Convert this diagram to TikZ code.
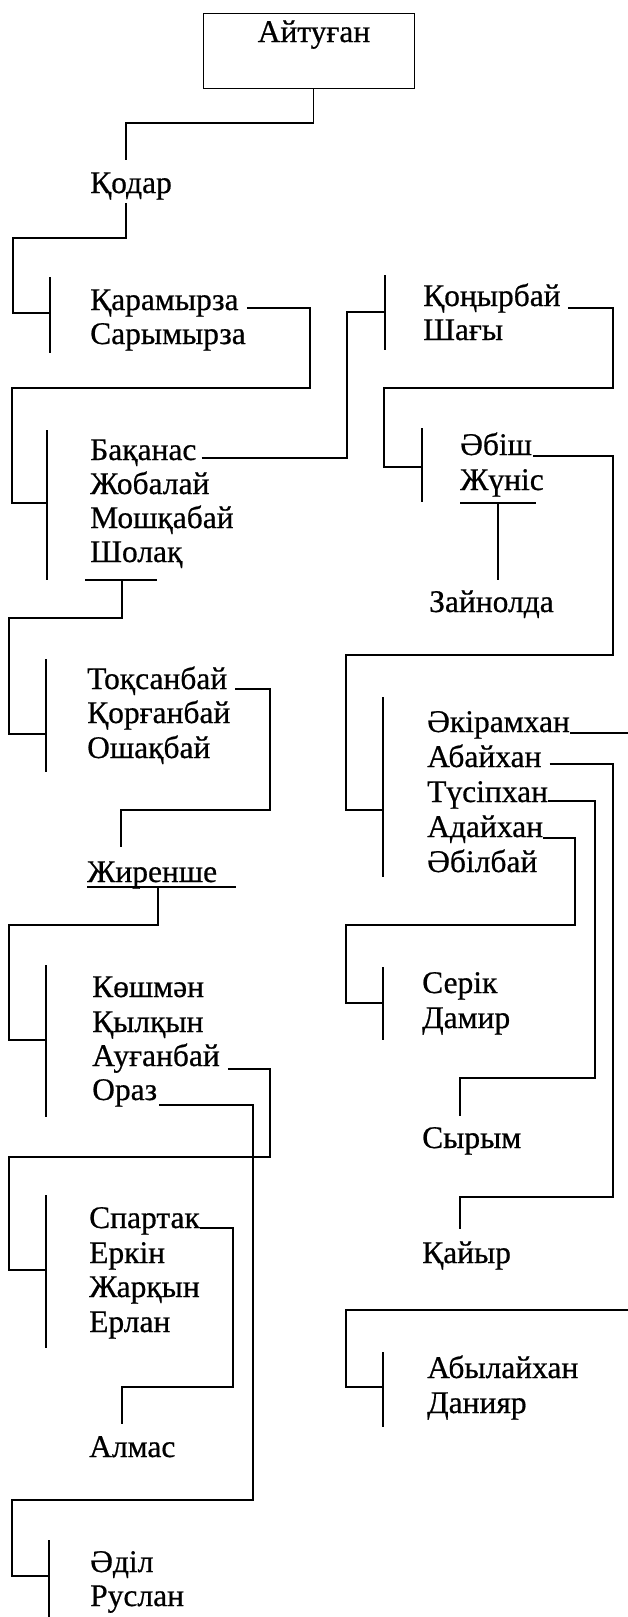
\documentclass[tikz,border=0pt]{standalone}
\usepackage{fontspec}
\setmainfont{Liberation Serif}
\newfontfamily\nmfont{Liberation Serif}[BoldFont=Liberation Serif, BoldFeatures={FakeBold=0.6}]
\usetikzlibrary{calc}
\tikzset{
  nm/.style={anchor=base west, inner sep=0pt, font=\nmfont\bfseries\fontsize{31.5}{36}\selectfont},
  ln/.style={line width=1.2pt},
  bar/.style={line width=1.2pt}
}
\begin{document}
\begin{tikzpicture}[x=1pt,y=-1pt]
\useasboundingbox (0,0) rectangle (628,1617);
\fill[white] (0,0) rectangle (628,1617);

% top box
\node[draw, line width=1.2pt, anchor=north west, inner sep=0pt, minimum width=211pt, minimum height=75pt] (aitbox) at (203,13) {};
\node[nm, anchor=base] (ait) at (314,42) {Айтуған};

% names
\node[nm] (kod) at (90,193) {Қодар};
\node[nm] (kar) at (90,310) {Қарамырза};
\node[nm] (sar) at (90,344) {Сарымырза};
\node[nm] (bak) at (90,460) {Бақанас};
\node[nm] (zhob) at (90,494) {Жобалай};
\node[nm] (mosh) at (90,528) {Мошқабай};
\node[nm] (shol) at (90,562) {Шолақ};
\node[nm] (kon) at (423,306) {Қоңырбай};
\node[nm] (shag) at (423,340) {Шағы};
\node[nm] (abi) at (460,455) {Әбіш};
\node[nm] (zhun) at (460,490) {Жүніс};
\node[nm] (zay) at (429,612) {Зайнолда};
\node[nm] (tok) at (87,689) {Тоқсанбай};
\node[nm] (kor) at (87,723) {Қорғанбай};
\node[nm] (osh) at (87,758) {Ошақбай};
\node[nm] (zhir) at (87,882) {Жиренше};
\node[nm] (akir) at (427,732) {Әкірамхан};
\node[nm] (abay) at (427,767) {Абайхан};
\node[nm] (tus) at (427,802) {Түсіпхан};
\node[nm] (aday) at (427,837) {Адайхан};
\node[nm] (abil) at (427,872) {Әбілбай};
\node[nm] (ser) at (422,993) {Серік};
\node[nm] (dam) at (422,1028) {Дамир};
\node[nm] (syr) at (422,1148) {Сырым};
\node[nm] (kay) at (422,1263) {Қайыр};
\node[nm] (kosh) at (92,997) {Көшмән};
\node[nm] (kyl) at (92,1032) {Қылқын};
\node[nm] (aug) at (92,1066) {Ауғанбай};
\node[nm] (oraz) at (92,1100) {Ораз};
\node[nm] (spar) at (89,1228) {Спартак};
\node[nm] (erk) at (89,1263) {Еркін};
\node[nm] (zhar) at (89,1297) {Жарқын};
\node[nm] (erl) at (89,1332) {Ерлан};
\node[nm] (alm) at (89,1457) {Алмас};
\node[nm] (abyl) at (427,1378) {Абылайхан};
\node[nm] (dan) at (427,1413) {Данияр};
\node[nm] (adil) at (90,1572) {Әділ};
\node[nm] (rus) at (90,1606) {Руслан};

% bars
\draw[bar] (50,277) -- (50,353);
\draw[bar] (47,430) -- (47,580);
\draw[bar] (385,275) -- (385,350);
\draw[bar] (422,428) -- (422,502);
\draw[bar] (383,697) -- (383,877);
\draw[bar] (383,967) -- (383,1040);
\draw[bar] (383,1352) -- (383,1427);
\draw[bar] (46,659) -- (46,772);
\draw[bar] (46,965) -- (46,1117);
\draw[bar] (46,1195) -- (46,1348);
\draw[bar] (49,1540) -- (49,1617);

% connectors
\draw[ln] ($(aitbox.south)+(4.5,0)$) |- (126,123) -- ($(kod.north west)+(36,-12)$);
\draw[ln] ($(kod.base west)+(36,10)$) |- (13,238) |- (50,313);
\draw[ln] ($(kar.base east)+(8,-2)$) -| (310,388) -| (12,503) -- (47,503);
\draw[ln] ($(bak.base east)+(5,-2)$) -| (347,312) -- (385,312);
\draw[ln] ($(kon.base east)+(7,2)$) -| (613,388) -| (384,467) -- (422,467);
\draw[ln] ($(zhun.base west)+(0,13)$) -- ($(zhun.base west)+(76,13)$);
\draw[ln] ($(zhun.base west)+(38,13)$) -- ($(zay.north west)+(69,-10)$);
\draw[ln] ($(abi.base east)+(1,1)$) -| (613,655) -| (346,810) -- (383,810);
\draw[ln] ($(akir.base east)+(0,1)$) -- (628,733);
\draw[ln] ($(abay.base east)+(8,-3)$) -| (613,1197) -| ($(kay.north west)+(38,-12)$);
\draw[ln] ($(tus.base east)+(0,-1)$) -| (595,1078) -| ($(syr.north west)+(38,-11)$);
\draw[ln] ($(aday.base east)+(0,1)$) -| (575,925) -| (346,1003) -- (383,1003);
\draw[ln] (628,1310) -| (346,1387) -- (383,1387);
\draw[ln] ($(shol.base west)+(-5,18)$) -- ($(shol.base west)+(67,18)$);
\draw[ln] ($(shol.base west)+(32,18)$) |- (9,618) |- (46,734);
\draw[ln] ($(tok.base east)+(8,0)$) -| (270,810) -| ($(zhir.north west)+(34,-14)$);
\draw[ln] ($(zhir.base west)+(0,5)$) -- ($(zhir.base east)+(19,5)$);
\draw[ln] ($(zhir.base west)+(71,5)$) |- (9,925) |- (46,1040);
\draw[ln] ($(aug.base east)+(8,3)$) -| (270,1157) -| (9,1270) -- (46,1270);
\draw[ln] ($(oraz.base east)+(2,5)$) -| (253,1500) -| (12,1576) -- (49,1576);
\draw[ln] ($(spar.base east)+(0,0)$) -| (233,1387) -| ($(alm.north west)+(33,-12)$);
\end{tikzpicture}
\end{document}
